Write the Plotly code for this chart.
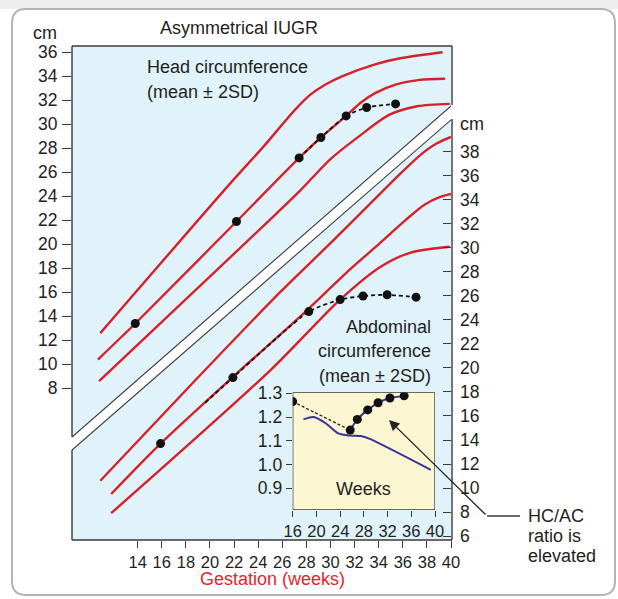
import plotly.graph_objects as go

# ---------------- data ----------------
# Head circumference reference curves (gestation weeks, cm on left scale)
hc_upper_wk = [10.9, 21.7, 24.4, 27.05, 28.3, 29.55, 30.95, 33.7, 35.8, 39.3]
hc_upper_cm = [12.6, 25.1, 28.1, 31.2, 32.45, 33.3, 34.0, 35.0, 35.5, 36.0]
hc_mean_wk = [10.7, 13.8, 22.2, 27.4, 29.2, 31.3, 32.5, 33.7, 35.4, 37.4, 39.5]
hc_mean_cm = [10.4, 13.4, 21.9, 27.2, 28.9, 30.7, 31.8, 32.6, 33.3, 33.7, 33.8]
hc_lower_wk = [10.8, 23.3, 27.5, 30.0, 32.5, 34.9, 37.2, 39.9]
hc_lower_cm = [8.6, 20.45, 24.5, 27.1, 29.1, 30.8, 31.5, 31.7]

# Abdominal circumference reference curves (weeks, cm on right scale)
ac_upper_wk = [10.9, 18.8, 25.8, 30.0, 32.9, 35.4, 37.4, 38.8, 40.0]
ac_upper_cm = [10.6, 19.0, 26.3, 30.4, 33.3, 35.8, 37.7, 38.7, 39.25]
ac_mean_wk = [11.8, 15.9, 21.9, 27.5, 31.6, 34.1, 36.2, 37.8, 39.1, 40.0]
ac_mean_cm = [9.5, 13.7, 19.25, 24.3, 28.2, 30.4, 32.3, 33.6, 34.25, 34.5]
ac_lower_wk = [11.8, 25.0, 30.8, 34.1, 36.6, 39.9]
ac_lower_cm = [7.9, 19.8, 25.7, 28.4, 29.6, 30.1]

# Measured fetus
hc_obs_wk = [13.8, 22.2, 27.4, 29.2, 31.3, 33.0, 35.4]
hc_obs_cm = [13.4, 21.9, 27.2, 28.9, 30.7, 31.4, 31.7]
ac_obs_wk = [15.9, 21.9, 28.2, 30.8, 32.7, 34.7, 37.1]
ac_obs_cm = [13.7, 19.2, 24.7, 25.7, 26.0, 26.1, 25.9]
ac_trend_start_wk = 19.6
ac_trend_start_cm = 17.1

# Inset: HC/AC ratio
ratio_obs_wk = [16, 25.7, 26.9, 28.65, 30.4, 32.4, 34.8]
ratio_obs = [1.265, 1.145, 1.19, 1.23, 1.26, 1.28, 1.289]
ratio_norm_wk = [17.8, 19.5, 21.5, 23.7, 25.5, 27.5, 29.0, 39.3]
ratio_norm = [1.19, 1.20, 1.175, 1.131, 1.122, 1.12, 1.108, 0.978]

left_ticks = list(range(8, 37, 2))
right_ticks = list(range(6, 39, 2))
x_ticks = list(range(14, 41, 2))
inset_x_ticks = [16, 20, 24, 28, 32, 36, 40]
inset_y_ticks = [0.9, 1.0, 1.1, 1.2, 1.3]
inset_y_labels = ["0.9", "1.0", "1.1", "1.2", "1.3"]

# ---------------- styling / layout helpers ----------------
W, H = 618, 599
PX0, PX1, PY0, PY1 = 72, 451, 46, 540
FONT = "Liberation Sans, Arial, sans-serif"
TXT = "#231f20"
RED = "#d7212a"
BLUE_BG = "#e0f2fa"
YEL = "#fdf6d2"
NAVY = "#34349a"
EDGE = "#3a3a3a"
INSET_X = [16, 40]
INSET_Y = [0.809, 1.304]


def fx(px):
    return (px - PX0) / (PX1 - PX0)


def fy(py):
    return (PY1 - py) / (PY1 - PY0)


fig = go.Figure()

red_line = dict(color=RED, width=2.4, shape="spline", smoothing=0.8)
for xs, ys in [(hc_upper_wk, hc_upper_cm), (hc_mean_wk, hc_mean_cm), (hc_lower_wk, hc_lower_cm)]:
    fig.add_trace(go.Scatter(x=xs, y=ys, mode="lines", line=red_line, hoverinfo="skip"))
for xs, ys in [(ac_upper_wk, ac_upper_cm), (ac_mean_wk, ac_mean_cm), (ac_lower_wk, ac_lower_cm)]:
    fig.add_trace(go.Scatter(x=xs, y=ys, yaxis="y2", mode="lines", line=red_line, hoverinfo="skip"))

# dashed trends
fig.add_trace(go.Scatter(x=hc_obs_wk[2:], y=hc_obs_cm[2:], mode="lines",
                         line=dict(color="#111", width=1.8, dash="4px,3px", shape="spline", smoothing=0.6)))
fig.add_trace(go.Scatter(x=[ac_trend_start_wk] + ac_obs_wk[1:], y=[ac_trend_start_cm] + ac_obs_cm[1:],
                         yaxis="y2", mode="lines",
                         line=dict(color="#111", width=1.8, dash="4px,3px", shape="spline", smoothing=0.6)))
# dots
fig.add_trace(go.Scatter(x=hc_obs_wk, y=hc_obs_cm, mode="markers", marker=dict(color="#111", size=9)))
fig.add_trace(go.Scatter(x=ac_obs_wk, y=ac_obs_cm, yaxis="y2", mode="markers", marker=dict(color="#111", size=9)))

# inset
fig.add_trace(go.Scatter(x=ratio_norm_wk, y=ratio_norm, xaxis="x2", yaxis="y3", mode="lines",
                         line=dict(color=NAVY, width=2, shape="spline", smoothing=0.6)))
fig.add_trace(go.Scatter(x=ratio_obs_wk[:2], y=ratio_obs[:2], xaxis="x2", yaxis="y3", mode="lines",
                         line=dict(color="#222", width=1.3, dash="3px,2px")))
fig.add_trace(go.Scatter(x=ratio_obs_wk[1:], y=ratio_obs[1:], xaxis="x2", yaxis="y3", mode="lines",
                         line=dict(color=NAVY, width=2, shape="spline", smoothing=0.6)))
fig.add_trace(go.Scatter(x=ratio_obs_wk, y=ratio_obs, xaxis="x2", yaxis="y3", mode="markers",
                         marker=dict(color="#111", size=9)))

# ---------------- shapes ----------------
shapes = []
# light grey strip above the frame
shapes.append(dict(type="rect", xref="paper", yref="paper", x0=fx(0), x1=fx(618), y0=fy(9), y1=fy(0),
                   fillcolor="#eeeeee", line=dict(width=0), layer="below"))
# outer rounded frame
x0, y0, x1, y1, r = 12, 9, 615, 595, 14
path = (f"M {fx(x0 + r)} {fy(y0)} L {fx(x1 - r)} {fy(y0)} Q {fx(x1)} {fy(y0)} {fx(x1)} {fy(y0 + r)} "
        f"L {fx(x1)} {fy(y1 - r)} Q {fx(x1)} {fy(y1)} {fx(x1 - r)} {fy(y1)} "
        f"L {fx(x0 + r)} {fy(y1)} Q {fx(x0)} {fy(y1)} {fx(x0)} {fy(y1 - r)} "
        f"L {fx(x0)} {fy(y0 + r)} Q {fx(x0)} {fy(y0)} {fx(x0 + r)} {fy(y0)} Z")
shapes.append(dict(type="path", path=path, xref="paper", yref="paper",
                   line=dict(color="#b4b4b4", width=2), fillcolor="rgba(0,0,0,0)", layer="below"))
# main plot background
shapes.append(dict(type="rect", xref="paper", yref="paper", x0=0, x1=1, y0=0, y1=1,
                   fillcolor=BLUE_BG, line=dict(width=0), layer="below"))

# white break band (axis break between the two scales)
bx0, bx1 = 8.55, 40.08
b_up = (3.94, 31.6)
b_lo = (2.86, 30.44)
band = (f"M {bx0} {b_up[0]} L {bx1} {b_up[1]} L {bx1} {b_lo[1]} L {bx0} {b_lo[0]} Z")
shapes.append(dict(type="path", path=band, xref="x", yref="y", fillcolor="white",
                   line=dict(width=0), layer="below"))
for a, b in [b_up, b_lo]:
    shapes.append(dict(type="line", xref="x", yref="y", x0=bx0, y0=a, x1=bx1, y1=b,
                       line=dict(color=EDGE, width=1.1), layer="above"))

# plot box borders
def seg(xa, ya, xb, yb, w=1.4):
    return dict(type="line", xref="paper", yref="paper", x0=fx(xa), y0=fy(ya), x1=fx(xb), y1=fy(yb),
                line=dict(color=EDGE, width=w), layer="above")

shapes += [seg(72, 46, 452, 46), seg(72, 46, 72, 437), seg(72, 450, 72, 540),
           seg(72, 540, 452, 540), seg(452, 46, 452, 105), seg(452, 119, 452, 540)]
# inset background and box (in inset axis coordinates)
shapes.append(dict(type="rect", xref="x2", yref="y3", x0=INSET_X[0], x1=INSET_X[1],
                   y0=INSET_Y[0], y1=INSET_Y[1], fillcolor=YEL, line=dict(width=0), layer="below"))
shapes.append(dict(type="rect", xref="x2", yref="y3", x0=INSET_X[0], x1=INSET_X[1],
                   y0=INSET_Y[0], y1=INSET_Y[1], fillcolor="rgba(0,0,0,0)",
                   line=dict(color=EDGE, width=1.3), layer="above"))
# callout horizontal line
shapes.append(seg(487, 516, 520, 516, 1.3))

# ---------------- annotations ----------------
def txt(s, px, py, size=18, anchor="center", color=TXT):
    return dict(text=s, x=fx(px), y=fy(py), xref="paper", yref="paper", showarrow=False,
                xanchor=anchor, yanchor="middle", font=dict(family=FONT, size=size, color=color))

ann = [
    txt("cm", 45, 33),
    txt("Asymmetrical IUGR", 239, 28),
    txt("Head circumference", 145, 67, anchor="left"),
    txt("(mean ± 2SD)", 145, 92, anchor="left"),
    txt("Abdominal", 433, 327, anchor="right"),
    txt("circumference", 433, 351, anchor="right"),
    txt("(mean ± 2SD)", 433, 376, anchor="right"),
    txt("cm", 472, 124),
    txt("Gestation (weeks)", 272, 579, color="#e3262d"),
    txt("Weeks", 363, 489),
    txt("HC/AC", 526, 516, anchor="left"),
    txt("ratio is", 526, 536, anchor="left"),
    txt("elevated", 526, 556, anchor="left"),
]
ann.append(dict(text="", x=fx(389), y=fy(420), xref="paper", yref="paper", showarrow=True,
                ax=98, ay=96, axref="pixel", ayref="pixel", arrowhead=2, arrowsize=1.6,
                arrowwidth=1.3, arrowcolor="#222", standoff=0))

tickfont = dict(family=FONT, size=17.5, color=TXT)

fig.update_layout(
    width=W, height=H,
    margin=dict(l=PX0, r=W - PX1, t=PY0, b=H - PY1),
    paper_bgcolor="white",
    plot_bgcolor="rgba(0,0,0,0)",
    showlegend=False,
    shapes=shapes,
    annotations=ann,
    xaxis=dict(range=[8.55, 40], tickvals=x_ticks, ticktext=[str(v) for v in x_ticks],
               ticks="outside", ticklen=7, tickcolor=EDGE, tickwidth=1.3,
               showgrid=False, zeroline=False, showline=False,
               tickfont=dict(family=FONT, size=16.5, color=TXT), domain=[0, 1]),
    yaxis=dict(range=[-4.64, 36.525], tickvals=left_ticks, ticks="outside", ticklen=9,
               tickcolor=EDGE, tickwidth=1.3, showgrid=False, zeroline=False, showline=False,
               tickfont=tickfont, ticklabelstandoff=1),
    yaxis2=dict(range=[5.667, 46.83], tickvals=right_ticks, overlaying="y", side="right",
                ticks="inside", ticklen=8, tickcolor=EDGE, tickwidth=1.3, showgrid=False,
                zeroline=False, showline=False, tickfont=tickfont, ticklabelstandoff=8),
    xaxis2=dict(domain=[fx(292.7), fx(435)], anchor="y3", range=INSET_X, tickvals=inset_x_ticks,
                ticks="outside", ticklen=6, tickcolor=EDGE, tickwidth=1.3, showgrid=False,
                zeroline=False, showline=False, tickfont=dict(family=FONT, size=16.5, color=TXT)),
    yaxis3=dict(domain=[fy(510), fy(392.3)], anchor="x2", range=INSET_Y, tickvals=inset_y_ticks,
                ticktext=inset_y_labels, ticks="outside", ticklen=6, tickcolor=EDGE, tickwidth=1.3,
                showgrid=False, zeroline=False, showline=False, tickfont=tickfont),
)

fig.write_html("out.html", config={"displayModeBar": False},
               post_script="document.body.style.margin='0';")
